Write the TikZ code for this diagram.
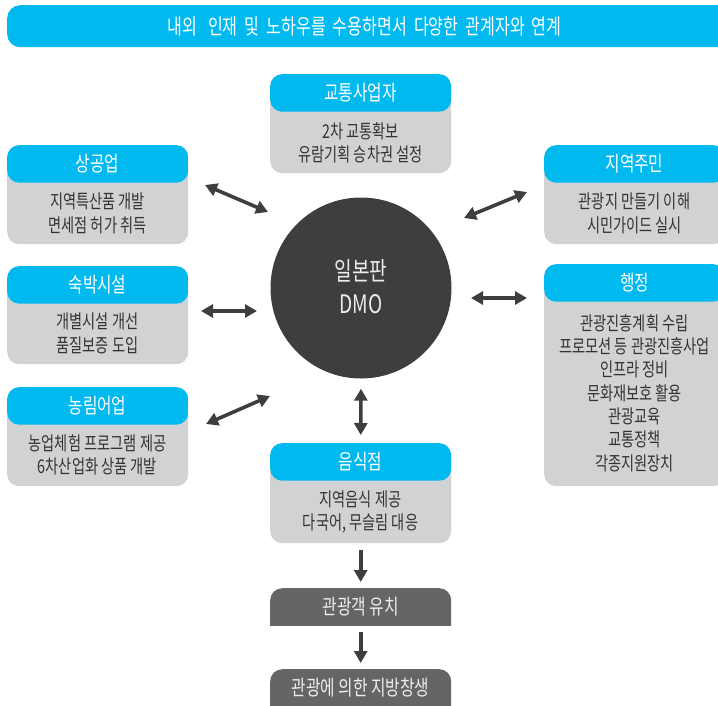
\documentclass[tikz,border=0pt]{standalone}
\usepackage{fontspec}
\setmainfont{Noto Sans CJK KR}[FakeStretch=0.75]
\usetikzlibrary{arrows.meta}
\definecolor{cy}{HTML}{00B9EF}
\definecolor{bg}{HTML}{D1D2D4}
\definecolor{dk}{HTML}{3E3E3E}
\definecolor{dbox}{HTML}{646567}
\definecolor{txt}{HTML}{333333}
\begin{document}
\begin{tikzpicture}[x=1pt,y=-1pt,
  card/.style={draw=none, fill=bg, rounded corners=12pt, minimum width=181pt, inner sep=0pt, anchor=north west,
    path picture={\fill[cy] ([yshift=2pt]path picture bounding box.north west) rectangle ([yshift=-37.5pt]path picture bounding box.north east);}},
  dcard/.style={draw=none, minimum width=181pt, minimum height=37pt, inner sep=0pt, anchor=north west,
    path picture={\fill[dbox, rounded corners=12pt] (path picture bounding box.north west) rectangle ([yshift=-20pt]path picture bounding box.south east);}},
  hdr/.style={text=white, font=\fontsize{21}{23}\selectfont, inner sep=0pt},
  dtxt/.style={text=white!93!black, font=\fontsize{21}{23}\selectfont, inner sep=0pt},
  bodyt/.style={text=txt, align=center, font=\fontsize{19}{23.3}\selectfont, inner sep=0pt},
  arr/.style={draw=dk, line width=3.6pt, {Triangle[length=12pt,width=13pt]}-{Triangle[length=12pt,width=13pt]}},
  darr/.style={draw=dk, line width=3.6pt, -{Triangle[length=12pt,width=13pt]}}
]
\useasboundingbox (0,0) rectangle (718,705);
% banner
\node[fill=cy, rounded corners=13pt, minimum width=730pt, minimum height=42pt, inner sep=0pt, anchor=north west] (banner) at (7,5) {};
\node[hdr, font=\fontsize{21.5}{23}\selectfont] (bannert) at (364.5,26) {\spaceskip=7pt 내외\hspace{4pt} 인재 및 노하우를 수용하면서 다양한 관계자와 연계};

% cards
\node[card, minimum height=99pt] (c1) at (270,74) {};
\node[hdr] (c1h) at (360.5,92.5) {교통사업자};
\node[bodyt] (c1t) at (360.5,142.5) {2차 교통확보\\유람기획 승차권 설정};

\node[card, minimum height=99pt] (c2) at (7,145) {};
\node[hdr] (c2h) at (97.5,164) {상공업};
\node[bodyt] (c2t) at (97.5,213.5) {지역특산품 개발\\면세점 허가 취득};

\node[card, minimum height=99pt] (c3) at (544,145) {};
\node[hdr] (c3h) at (634.5,164) {지역주민};
\node[bodyt] (c3t) at (634.5,213.5) {관광지 만들기 이해\\시민가이드 실시};

\node[card, minimum height=98pt] (c4) at (7,266) {};
\node[hdr] (c4h) at (97.5,284.5) {숙박시설};
\node[bodyt] (c4t) at (97.5,333.5) {개별시설 개선\\품질보증 도입};

\node[card, minimum height=222pt] (c5) at (544,264) {};
\node[hdr] (c5h) at (634.5,283) {행정};
\node[bodyt] (c5t) at (634.5,393) {관광진흥계획 수립\\프로모션 등 관광진흥사업\\인프라 정비\\문화재보호 활용\\관광교육\\교통정책\\각종지원장치};

\node[card, minimum height=99pt] (c6) at (7,387) {};
\node[hdr] (c6h) at (97.5,405.5) {농림어업};
\node[bodyt] (c6t) at (97.5,455) {농업체험 프로그램 제공\\6차산업화 상품 개발};

\node[card, minimum height=100pt] (c7) at (270,443) {};
\node[hdr] (c7h) at (360.5,462) {음식점};
\node[bodyt] (c7t) at (360.5,512) {지역음식 제공\\다국어, 무슬림 대응};

% center circle
\node[circle, fill=dk, minimum size=181pt, inner sep=0pt] (dmo) at (361,288) {};
\node[text=white!92!black, align=center, font=\fontsize{25.5}{33}\selectfont, inner sep=0pt] (dmot) at (361,287) {일본판\\DMO};

% bottom dark boxes
\node[dcard] (d1) at (270,588) {};
\node[dtxt] (d1t) at (360.5,606.5) {관광객 유치};
\node[dcard, minimum height=45pt] (d2) at (270,669) {};
\node[dtxt] (d2t) at (360.5,688) {관광에 의한 지방창생};

% arrow end coordinates
\coordinate (a1s) at (205,185); \coordinate (a1e) at (268,212);
\coordinate (a2s) at (527,192); \coordinate (a2e) at (464,218);
\coordinate (a3s) at (201,311); \coordinate (a3e) at (257,311);
\coordinate (a4s) at (471,298); \coordinate (a4e) at (527,298);
\coordinate (a5s) at (206,424); \coordinate (a5e) at (270,396);
\draw[arr] (a1s) -- (a1e);
\draw[arr] (a2s) -- (a2e);
\draw[arr] (a3s) -- (a3e);
\draw[arr] (a4s) -- (a4e);
\draw[arr] (a5s) -- (a5e);
\draw[arr, shorten <=10pt, shorten >=8pt] (dmo.south) -- (c7.north);
\draw[darr, shorten <=7pt, shorten >=6pt] (c7.south) -- (d1.north);
\draw[darr, shorten <=7pt, shorten >=6pt] (d1.south) -- (d2.north);
\end{tikzpicture}
\end{document}
